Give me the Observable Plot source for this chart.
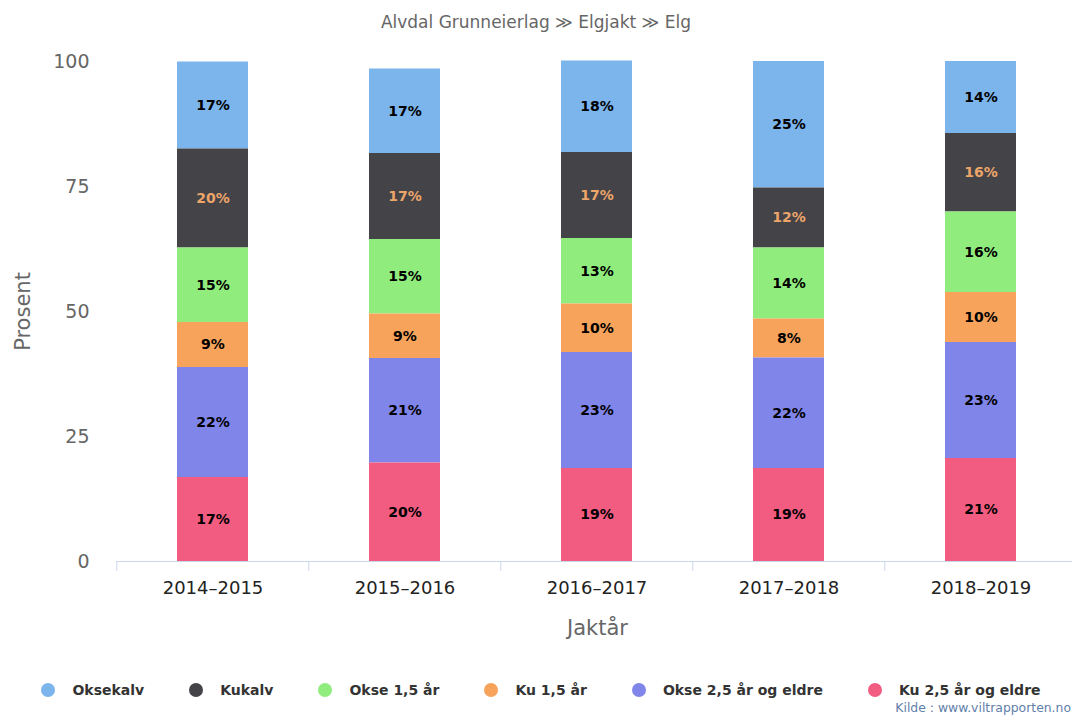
<!DOCTYPE html>
<html>
<head>
<meta charset="utf-8">
<script src="https://cdn.jsdelivr.net/npm/d3@7"></script>
<script src="https://cdn.jsdelivr.net/npm/@observablehq/plot@0.6"></script>
<style>
  html, body { margin: 0; padding: 0; background: #fff; overflow: hidden; width: 1072px; height: 715px; position: relative; }
  body { font-family: "DejaVu Sans", sans-serif; }
  #title { height: 40px; box-sizing: border-box; padding-top: 12px; text-align: center; font-size: 17px; line-height: 20px; color: #666; }
  #chart svg { display: block; }
  #legend { display: flex; justify-content: center; align-items: center; height: 40px; box-sizing: border-box; padding-top: 19px; padding-left: 10px; line-height: 20px; }
  .item { display: flex; align-items: center; margin: 0 22.5px; font-weight: bold; font-size: 14px; color: #333; }
  .dot { width: 14px; height: 14px; border-radius: 50%; margin-right: 17px; }
  #credit { position: absolute; right: 1px; top: 700px; font-size: 12.4px; line-height: 15px; color: #5f80aa; white-space: nowrap; }
</style>
</head>
<body>
<div id="title">Alvdal Grunneierlag ≫ Elgjakt ≫ Elg</div>
<div id="chart"></div>
<div id="legend"></div>
<div id="credit">Kilde : www.viltrapporten.no</div>
<script>
const categories = ["2014–2015", "2015–2016", "2016–2017", "2017–2018", "2018–2019"];
const seriesNames = ["Oksekalv", "Kukalv", "Okse 1,5 år", "Ku 1,5 år", "Okse 2,5 år og eldre", "Ku 2,5 år og eldre"];
const seriesColors = ["#7cb5ec", "#434348", "#90ed7d", "#f7a35c", "#8085e9", "#f15c80"];
const yTicks = [0, 25, 50, 75, 100];

const oksekalv = [17.4, 16.9, 18.3, 25.3, 14.4];
const kukalv   = [19.8, 17.2, 17.2, 12.0, 15.7];
const okse15   = [14.9, 14.9, 13.1, 14.2, 16.1];
const ku15     = [9.0, 8.9, 9.7, 7.8, 10.0];
const okse25   = [22.0, 20.9, 23.2, 22.1, 23.2];
const ku25     = [16.8, 19.7, 18.6, 18.6, 20.6];

const seriesValues = [oksekalv, kukalv, okse15, ku15, okse25, ku25];
const data = [];
seriesNames.forEach((s, si) => {
  categories.forEach((c, ci) => {
    data.push({ year: c, series: s, value: seriesValues[si][ci] });
  });
});
const stackOrder = seriesNames.slice().reverse(); // bottom to top

const W = 1072, H = 620, ML = 116, MR = -6, MT = 21, MB = 99;
const step = (W - ML - MR) / categories.length;

const chart = Plot.plot({
  width: W, height: H,
  marginLeft: ML, marginRight: MR, marginTop: MT, marginBottom: MB,
  style: { fontFamily: "DejaVu Sans, sans-serif", background: "#fff", overflow: "hidden" },
  x: { type: "band", domain: categories, paddingInner: 0.63, paddingOuter: 0.315 },
  y: { domain: [0, 100] },
  color: { domain: seriesNames, range: seriesColors },
  marks: [
    Plot.barY(data, Plot.stackY({ x: "year", y: "value", z: "series", fill: "series", order: stackOrder })),
    Plot.text(data, Plot.stackY({
      x: "year", y: "value", z: "series", order: stackOrder,
      text: d => Math.round(d.value) + "%",
      fill: d => d.series === "Kukalv" ? "#eda56a" : "#000",
      fontWeight: "bold", fontSize: 14
    })),
    Plot.ruleY([0], { stroke: "#ccd6eb" }),
    Plot.ruleX(categories, { x: d => d, y1: 0, y2: -2, dx: -step / 2, stroke: "#ccd6eb" }),
    Plot.axisX({ tickSize: 0, tickPadding: 20, fontSize: 18, color: "#222", label: null }),
    Plot.axisY({ ticks: yTicks, tickSize: 0, tickPadding: 27, fontSize: 19, color: "#666", label: null }),
    Plot.text(["Jaktår"], { frameAnchor: "bottom", dy: 67, lineAnchor: "middle", textAnchor: "middle", fontSize: 21, fill: "#666" }),
    Plot.text(["Prosent"], { frameAnchor: "left", dx: -93, rotate: -90, lineAnchor: "middle", textAnchor: "middle", fontSize: 21, fill: "#666" })
  ]
});
document.getElementById("chart").appendChild(chart);

const legend = document.getElementById("legend");
seriesNames.forEach((s, i) => {
  const item = document.createElement("div");
  item.className = "item";
  const dot = document.createElement("span");
  dot.className = "dot";
  dot.style.background = seriesColors[i];
  const label = document.createElement("span");
  label.textContent = s;
  item.appendChild(dot);
  item.appendChild(label);
  legend.appendChild(item);
});
</script>
</body>
</html>
